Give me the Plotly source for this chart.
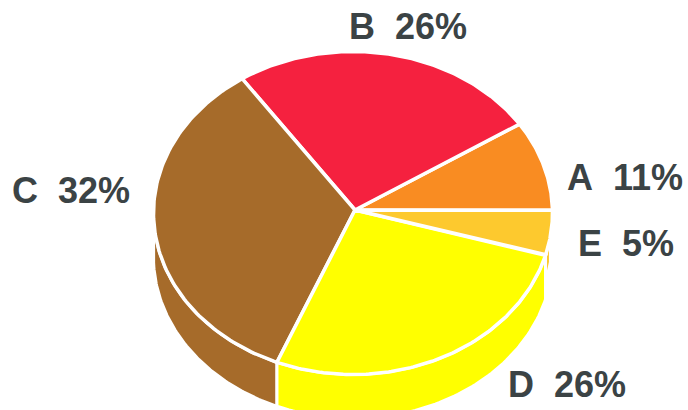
import numpy as np
import plotly.graph_objects as go

categories = ["A", "B", "C", "D", "E"]
printed_percent = [11, 26, 32, 26, 5]
# shares as actually drawn in the picture (measured from the slice edges)
drawn_share = [9.0, 25.1, 34.4, 27.0, 4.5]
colors = ["#F98C22", "#F5213F", "#A66B2A", "#FFFF00", "#FDC92E"]
label_x = [625, 408, 71, 626, 567]
label_y = [181, 30, 194, 247, 388]
label_order = ["A", "B", "C", "E", "D"]

CX, CY, RX, RY = 353, 213, 199.5, 161.5
HUB = (355, 210)
DEPTH = 44
START = 1.0


def rim(t, dy=0.0):
    a = np.radians(t)
    return CX + RX * np.cos(a), CY - RY * np.sin(a) + dy


edges = START + np.concatenate([[0.0], np.cumsum(drawn_share) / sum(drawn_share) * 360.0])
fig = go.Figure()


def side(t0, t1, color, depth=DEPTH):
    t = np.linspace(t0, t1, 80)
    x0, y0 = rim(t)
    x1, y1 = rim(t[::-1], depth)
    fig.add_trace(go.Scatter(
        x=np.r_[x0, x1, x0[0]], y=np.r_[y0, y1, y0[0]], mode="lines", fill="toself",
        fillcolor=color, line=dict(color="white", width=3), hoverinfo="skip", showlegend=False))


side(182, edges[3], colors[2])
side(edges[3], edges[4], colors[3])
side(edges[4], edges[4] + 7, colors[4], 26)

for i, cat in enumerate(categories):
    t = np.linspace(edges[i], edges[i + 1], 120)
    x, y = rim(t)
    fig.add_trace(go.Scatter(
        x=np.r_[HUB[0], x, HUB[0]], y=np.r_[HUB[1], y, HUB[1]], mode="lines", fill="toself",
        fillcolor=colors[i], line=dict(color="white", width=3.5), name=cat,
        hoverinfo="skip", showlegend=False))

pct = dict(zip(categories, printed_percent))
fig.add_trace(go.Scatter(
    x=label_x, y=label_y, mode="text",
    text=[f"{c}\u00a0\u00a0{pct[c]}%" for c in label_order],
    textposition="middle center",
    textfont=dict(family="Liberation Sans", size=36, color="#3B4345", weight="bold"),
    hoverinfo="skip", showlegend=False))

fig.update_layout(
    width=688, height=410, margin=dict(l=0, r=0, t=0, b=0),
    paper_bgcolor="white", plot_bgcolor="white",
    xaxis=dict(range=[0, 688], visible=False, fixedrange=True),
    yaxis=dict(range=[410, 0], visible=False, fixedrange=True),
)
fig.write_html("out.html", config={"displayModeBar": False},
               post_script="document.body.style.margin='0';document.documentElement.style.overflow='hidden';")
